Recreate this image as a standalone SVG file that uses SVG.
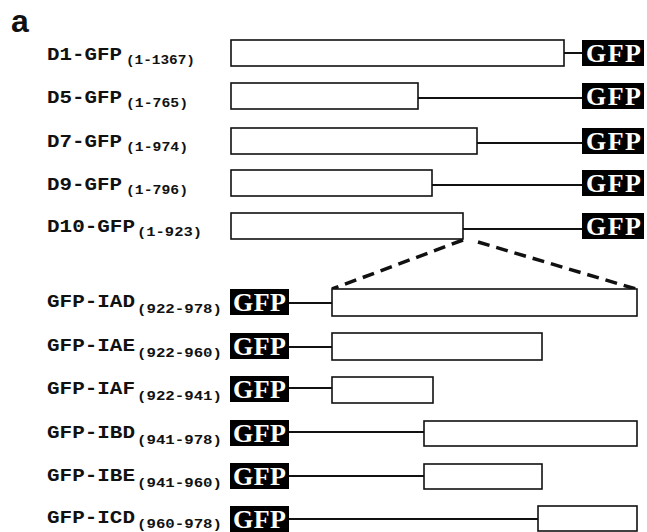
<svg xmlns="http://www.w3.org/2000/svg" width="647" height="532" viewBox="0 0 647 532">
  <style>
    .lbl { font-family: "Liberation Mono", "DejaVu Sans Mono", monospace; font-weight: bold; font-size: 17.5px; fill: #111; }
    .sub { font-family: "Liberation Mono", "DejaVu Sans Mono", monospace; font-weight: bold; font-size: 13px; fill: #111; }
    .seg { fill: #fff; stroke: #111; stroke-width: 1.6; }
    .tag { fill: #000; }
    .tagtxt { font-family: "Liberation Serif", "DejaVu Serif", serif; font-weight: bold; font-size: 26px; fill: #fff; }
    .link { stroke: #111; stroke-width: 2; fill: none; }
    .zoom { stroke: #111; stroke-width: 3.5; fill: none; stroke-dasharray: 12 7; }
    .panel { font-family: "Liberation Sans", Arial, sans-serif; font-weight: bold; font-size: 32px; fill: #111; }
  </style>
  <defs>
    <g id="gfpTop">
      <rect class="tag" x="0" y="0" width="62" height="26"/>
      <text class="tagtxt" x="4" y="22" textLength="55" lengthAdjust="spacing">GFP</text>
    </g>
    <g id="gfpBot">
      <rect class="tag" x="0" y="0" width="59" height="26"/>
      <text class="tagtxt" x="3" y="21.5" textLength="53" lengthAdjust="spacing">GFP</text>
    </g>
  </defs>

  <text class="panel" x="11" y="32">a</text>

  <!-- linker lines and zoom-in guides -->
  <g id="connectors">
    <line class="link" x1="564" y1="53" x2="582" y2="53"/>
    <line class="link" x1="418" y1="98" x2="582" y2="98"/>
    <line class="link" x1="477" y1="143" x2="582" y2="143"/>
    <line class="link" x1="432" y1="185" x2="582" y2="185"/>
    <line class="link" x1="463" y1="229" x2="582" y2="229"/>

    <line class="zoom" x1="463" y1="240" x2="332" y2="289"/>
    <line class="zoom" x1="478" y1="242" x2="636" y2="289"/>

    <line class="link" x1="289" y1="303" x2="332" y2="303"/>
    <line class="link" x1="289" y1="347" x2="332" y2="347"/>
    <line class="link" x1="289" y1="388" x2="332" y2="388"/>
    <line class="link" x1="289" y1="432" x2="424" y2="432"/>
    <line class="link" x1="289" y1="476" x2="424" y2="476"/>
    <line class="link" x1="289" y1="519" x2="538" y2="519"/>
  </g>

  <!-- C-terminal GFP fusions -->
  <g id="D1">
    <text class="lbl" x="47" y="60" textLength="75" lengthAdjust="spacingAndGlyphs">D1-GFP</text>
    <text class="sub" x="126" y="64" textLength="69" lengthAdjust="spacingAndGlyphs">(1-1367)</text>
    <rect class="seg" x="231" y="40" width="333" height="26"/>
    <use href="#gfpTop" x="582" y="40"/>
  </g>
  <g id="D5">
    <text class="lbl" x="47" y="103" textLength="75" lengthAdjust="spacingAndGlyphs">D5-GFP</text>
    <text class="sub" x="126" y="107" textLength="62" lengthAdjust="spacingAndGlyphs">(1-765)</text>
    <rect class="seg" x="231" y="83" width="187" height="26"/>
    <use href="#gfpTop" x="582" y="83"/>
  </g>
  <g id="D7">
    <text class="lbl" x="47" y="147" textLength="75" lengthAdjust="spacingAndGlyphs">D7-GFP</text>
    <text class="sub" x="126" y="151" textLength="62" lengthAdjust="spacingAndGlyphs">(1-974)</text>
    <rect class="seg" x="231" y="128" width="246" height="26"/>
    <use href="#gfpTop" x="582" y="128"/>
  </g>
  <g id="D9">
    <text class="lbl" x="47" y="190" textLength="75" lengthAdjust="spacingAndGlyphs">D9-GFP</text>
    <text class="sub" x="126" y="194" textLength="62" lengthAdjust="spacingAndGlyphs">(1-796)</text>
    <rect class="seg" x="231" y="170" width="201" height="26"/>
    <use href="#gfpTop" x="582" y="170"/>
  </g>
  <g id="D10">
    <text class="lbl" x="47" y="232" textLength="88" lengthAdjust="spacingAndGlyphs">D10-GFP</text>
    <text class="sub" x="137" y="236" textLength="65" lengthAdjust="spacingAndGlyphs">(1-923)</text>
    <rect class="seg" x="231" y="213" width="232" height="26"/>
    <use href="#gfpTop" x="582" y="213"/>
  </g>

  <!-- N-terminal GFP fusions of the 922-978 region -->
  <g id="IAD">
    <text class="lbl" x="47" y="307" textLength="88" lengthAdjust="spacingAndGlyphs">GFP-IAD</text>
    <text class="sub" x="137" y="313" textLength="85" lengthAdjust="spacingAndGlyphs">(922-978)</text>
    <use href="#gfpBot" x="230" y="289"/>
    <rect class="seg" x="332" y="289" width="305" height="27"/>
  </g>
  <g id="IAE">
    <text class="lbl" x="47" y="351" textLength="88" lengthAdjust="spacingAndGlyphs">GFP-IAE</text>
    <text class="sub" x="137" y="357" textLength="85" lengthAdjust="spacingAndGlyphs">(922-960)</text>
    <use href="#gfpBot" x="230" y="333"/>
    <rect class="seg" x="332" y="333" width="210" height="27"/>
  </g>
  <g id="IAF">
    <text class="lbl" x="47" y="394" textLength="88" lengthAdjust="spacingAndGlyphs">GFP-IAF</text>
    <text class="sub" x="137" y="400" textLength="85" lengthAdjust="spacingAndGlyphs">(922-941)</text>
    <use href="#gfpBot" x="230" y="376"/>
    <rect class="seg" x="332" y="377" width="101" height="26"/>
  </g>
  <g id="IBD">
    <text class="lbl" x="47" y="438" textLength="88" lengthAdjust="spacingAndGlyphs">GFP-IBD</text>
    <text class="sub" x="137" y="444" textLength="85" lengthAdjust="spacingAndGlyphs">(941-978)</text>
    <use href="#gfpBot" x="230" y="420"/>
    <rect class="seg" x="424" y="421" width="213" height="25"/>
  </g>
  <g id="IBE">
    <text class="lbl" x="47" y="481" textLength="88" lengthAdjust="spacingAndGlyphs">GFP-IBE</text>
    <text class="sub" x="137" y="487" textLength="85" lengthAdjust="spacingAndGlyphs">(941-960)</text>
    <use href="#gfpBot" x="230" y="463"/>
    <rect class="seg" x="424" y="464" width="118" height="25"/>
  </g>
  <g id="ICD">
    <text class="lbl" x="47" y="523" textLength="88" lengthAdjust="spacingAndGlyphs">GFP-ICD</text>
    <text class="sub" x="137" y="528" textLength="85" lengthAdjust="spacingAndGlyphs">(960-978)</text>
    <use href="#gfpBot" x="230" y="506"/>
    <rect class="seg" x="538" y="506" width="99" height="25"/>
  </g>
</svg>
